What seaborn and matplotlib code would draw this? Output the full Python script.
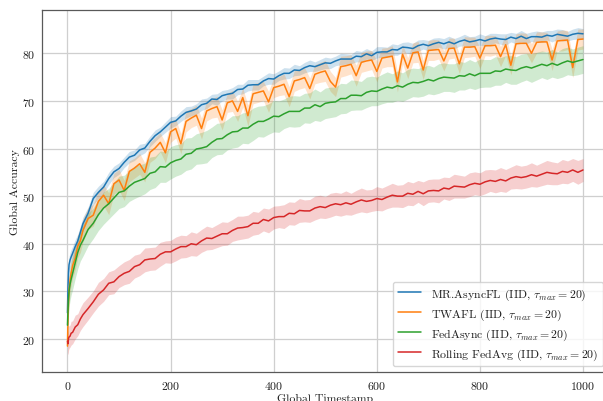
import matplotlib
matplotlib.use("Agg")
import matplotlib.pyplot as plt
import seaborn as sns
import numpy as np
import pandas as pd

# ---------------- data ----------------
timestamps = [0, 1, 2, 3, 5, 7, 10, 15, 20, 25] + list(range(30, 1001, 10))

mr_asyncfl = [
    25.5, 31.0, 34.0, 35.6, 36.6, 37.2, 38.0, 39.4, 40.6, 42.4,
    44.2, 46.4, 49.5, 50.8, 51.9, 53.7, 55.1, 55.8, 57.1, 58.2,
    58.6, 59.7, 60.1, 61.5, 62.7, 63.5, 64.5, 65.5, 65.8, 66.8,
    67.6, 67.9, 68.3, 69.2, 69.5, 70.4, 70.3, 71.1, 71.4, 71.6,
    72.4, 72.5, 73.3, 73.4, 73.4, 74.2, 74.7, 74.6, 75.3, 75.8,
    75.8, 76.5, 76.4, 77.0, 77.4, 77.2, 77.6, 78.0, 77.9, 78.4,
    78.8, 78.8, 78.8, 79.4, 79.3, 79.9, 79.5, 80.2, 80.3, 80.3,
    80.8, 80.7, 81.3, 81.2, 81.0, 81.6, 81.9, 81.6, 82.0, 82.3,
    82.0, 82.4, 82.0, 82.5, 82.8, 82.4, 82.6, 82.9, 82.6, 83.0,
    83.2, 83.0, 82.9, 83.4, 83.1, 83.6, 83.1, 83.5, 83.5, 83.4,
    83.8, 83.6, 84.0, 83.8, 83.6, 84.0, 84.2, 84.1,
]
mr_asyncfl_sd = [
    1.5, 1.8, 1.8, 1.7, 1.6, 1.6, 1.5, 1.5, 1.4, 1.4,
    1.4, 1.3, 1.3, 1.3, 1.2, 1.3, 1.2, 1.2, 1.1, 1.2,
    1.1, 1.2, 1.0, 1.1, 1.2, 1.0, 1.1, 1.2, 1.0, 1.1,
    1.2, 1.0, 1.1, 1.2, 1.1, 1.0, 1.2, 1.1, 1.0, 1.2,
    1.1, 1.0, 1.2, 1.1, 1.1, 1.0, 1.2, 1.1, 1.0, 1.2,
    1.1, 1.2, 1.0, 1.1, 1.2, 1.0, 1.1, 1.2, 1.1, 1.0,
    1.2, 1.1, 1.0, 1.2, 1.1, 1.1, 1.0, 1.2, 1.1, 1.0,
    1.2, 1.1, 1.0, 1.2, 1.1, 1.2, 1.0, 1.1, 1.2, 1.0,
    1.1, 1.2, 1.1, 1.0, 1.2, 1.1, 1.0, 1.2, 1.1, 1.2,
    1.0, 1.1, 1.2, 1.0, 1.1, 1.2, 1.1, 1.0, 1.2, 1.1,
    1.0, 1.2, 1.1, 1.2, 1.0, 1.1, 1.2, 1.1,
]

twafl = [
    18.5, 24.0, 28.0, 30.2, 32.4, 33.8, 35.4, 37.0, 39.5, 40.6,
    42.8, 45.3, 46.0, 48.9, 50.2, 48.4, 52.6, 53.4, 51.2, 55.2,
    55.9, 56.8, 55.0, 59.2, 60.1, 61.3, 59.1, 63.5, 64.2, 61.0,
    65.7, 66.4, 67.0, 64.2, 67.9, 68.4, 68.8, 66.0, 69.6, 70.0,
    67.8, 70.7, 66.9, 71.5, 71.8, 72.1, 69.8, 72.8, 73.1, 73.5,
    70.9, 74.2, 74.5, 74.9, 72.6, 75.6, 76.0, 76.3, 74.1, 72.9,
    77.2, 77.4, 77.7, 75.3, 78.1, 78.4, 78.6, 76.2, 79.0, 79.2,
    79.4, 74.0, 79.8, 76.9, 80.1, 80.3, 76.5, 80.6, 80.7, 80.8,
    78.4, 81.0, 81.1, 77.8, 81.3, 81.3, 81.4, 79.0, 81.6, 81.6,
    81.7, 79.3, 81.8, 77.5, 82.0, 82.1, 82.1, 80.0, 82.3, 82.4,
    82.4, 78.6, 82.6, 82.7, 82.8, 77.0, 82.9, 83.0,
]
twafl_sd = [
    2.5, 2.8, 2.8, 2.7, 2.6, 2.6, 2.5, 2.5, 2.4, 2.4,
    2.4, 2.3, 2.3, 2.3, 2.2, 2.3, 2.2, 2.2, 2.1, 2.2,
    2.1, 2.2, 2.0, 2.1, 2.2, 2.0, 2.1, 2.2, 2.0, 2.1,
    2.2, 2.0, 2.1, 2.2, 2.1, 2.0, 2.2, 2.1, 2.0, 2.2,
    2.1, 2.0, 2.2, 2.1, 2.1, 2.0, 2.2, 2.1, 2.0, 2.2,
    2.1, 2.2, 2.0, 2.1, 2.2, 2.0, 2.1, 2.2, 2.1, 2.0,
    2.2, 2.1, 2.0, 2.2, 2.1, 2.1, 2.0, 2.2, 2.1, 2.0,
    2.2, 2.1, 2.0, 2.2, 2.1, 2.2, 2.0, 2.1, 2.2, 2.0,
    2.1, 2.2, 2.1, 2.0, 2.2, 2.1, 2.0, 2.2, 2.1, 2.2,
    2.0, 2.1, 2.2, 2.0, 2.1, 2.2, 2.1, 2.0, 2.2, 2.1,
    2.0, 2.2, 2.1, 2.2, 2.0, 2.1, 2.2, 2.1,
]

fedasync = [
    22.9, 26.0, 28.5, 30.0, 31.5, 32.5, 33.8, 36.0, 38.2, 39.7,
    40.7, 43.0, 44.3, 46.1, 47.5, 48.4, 49.6, 50.8, 51.1, 52.1,
    52.9, 53.3, 53.7, 54.8, 55.1, 56.2, 56.1, 57.0, 57.5, 57.8,
    58.8, 59.0, 59.9, 60.1, 60.4, 61.3, 62.0, 62.1, 62.9, 63.5,
    63.6, 64.3, 64.3, 65.1, 65.7, 65.7, 66.2, 66.8, 66.7, 67.3,
    67.8, 67.8, 67.8, 68.5, 68.5, 69.2, 68.8, 69.5, 69.7, 69.8,
    70.5, 70.5, 71.2, 71.2, 71.1, 71.8, 72.1, 72.0, 72.5, 72.9,
    72.7, 73.2, 72.9, 73.5, 73.9, 73.8, 74.1, 74.5, 74.2, 74.7,
    75.0, 74.9, 74.8, 75.3, 75.2, 75.7, 75.3, 75.8, 75.8, 75.8,
    76.3, 76.2, 76.7, 76.5, 76.4, 76.9, 77.2, 76.9, 77.3, 77.7,
    77.4, 77.9, 77.5, 78.0, 78.4, 78.1, 78.4, 78.7,
]
fedasync_sd = [
    3.0, 3.2, 3.3, 3.3, 3.4, 3.3, 3.4, 3.3, 3.4, 3.3,
    3.3, 3.4, 3.2, 3.3, 3.4, 3.2, 3.3, 3.4, 3.3, 3.2,
    3.4, 3.3, 3.2, 3.4, 3.3, 3.3, 3.2, 3.4, 3.3, 3.2,
    3.4, 3.3, 3.2, 3.3, 3.4, 3.2, 3.3, 3.3, 3.2, 3.4,
    3.3, 3.2, 3.3, 3.4, 3.2, 3.3, 3.2, 3.3, 3.3, 3.1,
    3.2, 3.3, 3.2, 3.1, 3.2, 3.3, 3.1, 3.2, 3.2, 3.1,
    3.2, 3.1, 3.2, 3.1, 3.0, 3.2, 3.1, 3.0, 3.1, 3.2,
    3.0, 3.1, 3.0, 3.1, 3.0, 3.0, 3.1, 3.0, 2.9, 3.1,
    3.0, 2.9, 3.0, 3.0, 2.9, 3.0, 2.9, 3.0, 2.9, 2.9,
    3.0, 2.9, 2.8, 3.0, 2.9, 2.9, 2.8, 3.0, 2.9, 2.8,
    2.9, 2.9, 2.8, 3.0, 2.9, 2.8, 2.9, 2.9,
]

rolling_fedavg = [
    19.5, 19.0, 20.1, 20.4, 20.6, 21.2, 21.4, 22.5, 23.0, 24.2,
    25.1, 26.4, 27.8, 29.4, 30.3, 31.7, 32.0, 33.1, 33.8, 34.2,
    35.2, 35.6, 36.6, 36.8, 36.9, 37.8, 38.3, 38.3, 38.9, 39.4,
    39.4, 40.0, 39.8, 40.6, 41.2, 41.1, 41.6, 42.1, 42.1, 42.8,
    43.3, 43.4, 43.6, 44.3, 44.3, 45.1, 44.8, 45.5, 45.7, 45.7,
    46.4, 46.3, 47.0, 46.9, 46.9, 47.5, 47.8, 47.6, 48.1, 48.4,
    48.2, 48.6, 48.3, 48.8, 49.2, 48.9, 49.1, 49.5, 49.3, 49.8,
    50.2, 50.0, 50.0, 50.6, 50.4, 51.0, 50.5, 51.1, 51.2, 51.1,
    51.7, 51.5, 52.1, 52.0, 51.9, 52.4, 52.7, 52.5, 53.0, 53.3,
    53.1, 53.5, 53.2, 53.8, 54.1, 53.9, 54.1, 54.5, 54.2, 54.6,
    55.0, 54.8, 54.7, 55.2, 55.0, 55.5, 55.0, 55.5,
]
rolling_fedavg_sd = [
    2.4, 2.3, 2.5, 2.4, 2.3, 2.5, 2.4, 2.5, 2.3, 2.4,
    2.5, 2.4, 2.3, 2.5, 2.4, 2.4, 2.5, 2.3, 2.4, 2.5,
    2.4, 2.3, 2.5, 2.4, 2.4, 2.5, 2.3, 2.4, 2.5, 2.4,
    2.3, 2.5, 2.4, 2.4, 2.5, 2.3, 2.4, 2.5, 2.4, 2.3,
    2.5, 2.4, 2.4, 2.5, 2.3, 2.4, 2.5, 2.4, 2.3, 2.5,
    2.4, 2.4, 2.5, 2.3, 2.4, 2.5, 2.4, 2.3, 2.5, 2.4,
    2.4, 2.5, 2.3, 2.4, 2.5, 2.4, 2.3, 2.5, 2.4, 2.4,
    2.5, 2.3, 2.4, 2.5, 2.4, 2.3, 2.5, 2.4, 2.4, 2.5,
    2.3, 2.4, 2.5, 2.4, 2.3, 2.5, 2.4, 2.4, 2.5, 2.3,
    2.4, 2.5, 2.4, 2.3, 2.5, 2.4, 2.4, 2.5, 2.3, 2.4,
    2.5, 2.4, 2.3, 2.5, 2.4, 2.4, 2.5, 2.4,
]

labels = [
    r"MR.AsyncFL (IID, $\tau_{max} = 20$)",
    r"TWAFL (IID, $\tau_{max} = 20$)",
    r"FedAsync (IID, $\tau_{max} = 20$)",
    r"Rolling FedAvg (IID, $\tau_{max} = 20$)",
]
colors = ["#1f77b4", "#ff7f0e", "#2ca02c", "#d62728"]
x_ticks = [0, 200, 400, 600, 800, 1000]
y_ticks = [20, 30, 40, 50, 60, 70, 80]

# ---------------- style ----------------
sns.set_style("white")
plt.rcParams["font.family"] = ["cmr10", "DejaVu Serif"]
plt.rcParams["mathtext.fontset"] = "cm"
plt.rcParams["axes.formatter.use_mathtext"] = True
plt.rcParams["axes.unicode_minus"] = False

FS = 8.5
TXT = "0.12"
fig = plt.figure(figsize=(6.03, 4.02), dpi=100)
ax = fig.add_axes([41.7 / 603, 28.7 / 402, (608.8 - 41.7) / 603, (373.3 - 11.0) / 402])

series = [
    (mr_asyncfl, mr_asyncfl_sd),
    (twafl, twafl_sd),
    (fedasync, fedasync_sd),
    (rolling_fedavg, rolling_fedavg_sd),
]
t = np.array(timestamps, dtype=float)
for (vals, sd), lab, col in zip(series, labels, colors):
    v = np.array(vals, dtype=float)
    s = np.array(sd, dtype=float)
    df = pd.DataFrame({"Global Timestamp": t, "Global Accuracy": v})
    sns.lineplot(data=df, x="Global Timestamp", y="Global Accuracy", ax=ax,
                 color=col, linewidth=1.1, label=lab)
    ax.fill_between(t, v - s, v + s, color=col, alpha=0.22, linewidth=0)

ax.set_xlim(-50, 1050)
ax.set_ylim(13.0, 89.1)
ax.set_xticks(x_ticks)
ax.set_yticks(y_ticks)
ax.grid(True, color="#cfcfcf", linewidth=0.9)
ax.set_axisbelow(True)
for sp in ax.spines.values():
    sp.set_color("0.35")
    sp.set_linewidth(0.9)
ax.tick_params(axis="both", length=0, pad=4.5, labelsize=FS, colors=TXT)
ax.set_xlabel("Global Timestamp", fontsize=FS, color=TXT, labelpad=2)
ax.set_ylabel("Global Accuracy", fontsize=FS, color=TXT, labelpad=1.5)

leg = ax.legend(loc="lower right", fontsize=FS, frameon=True, framealpha=0.8,
                edgecolor="#cccccc", fancybox=True, borderaxespad=0.5,
                labelspacing=0.4)
for line in leg.get_lines():
    line.set_linewidth(1.1)
for txt in leg.get_texts():
    txt.set_color(TXT)

fig.savefig("out.png", dpi=100)
